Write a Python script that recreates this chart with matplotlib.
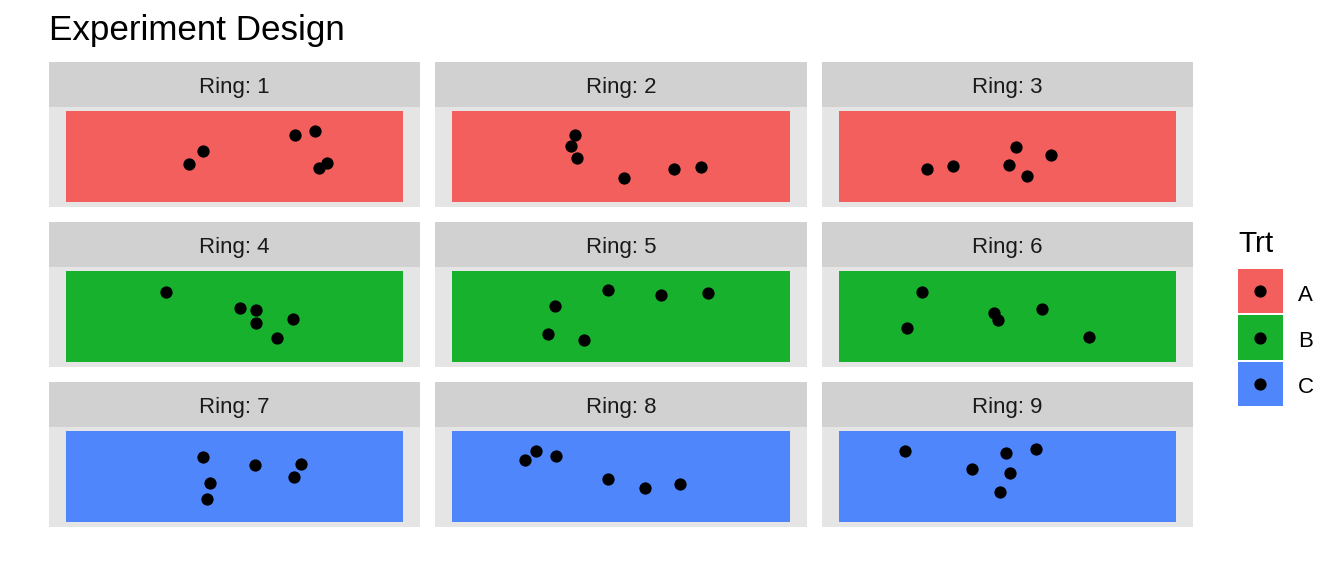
import matplotlib
matplotlib.use("Agg")
import matplotlib.pyplot as plt
from matplotlib.patches import Rectangle

plt.rcParams['font.family'] = ['Liberation Sans', 'DejaVu Sans']

# ---- data ----
rings = [1, 2, 3, 4, 5, 6, 7, 8, 9]
trt = ['A', 'A', 'A', 'B', 'B', 'B', 'C', 'C', 'C']
trt_levels = ['A', 'B', 'C']
trt_colors = ['#F35F5C', '#18B12E', '#4F86FC']

x_pos = [
    [0.405, 0.364, 0.678, 0.737, 0.751, 0.775],
    [0.364, 0.352, 0.370, 0.509, 0.657, 0.737],
    [0.263, 0.340, 0.527, 0.506, 0.559, 0.630],
    [0.296, 0.515, 0.562, 0.562, 0.672, 0.624],
    [0.305, 0.462, 0.618, 0.757, 0.284, 0.391],
    [0.246, 0.204, 0.459, 0.473, 0.604, 0.743],
    [0.405, 0.559, 0.698, 0.675, 0.426, 0.417],
    [0.216, 0.249, 0.308, 0.462, 0.571, 0.675],
    [0.198, 0.396, 0.497, 0.586, 0.509, 0.479],
]
y_pos = [
    [0.564, 0.425, 0.742, 0.782, 0.375, 0.433],
    [0.739, 0.620, 0.489, 0.261, 0.370, 0.391],
    [0.370, 0.402, 0.609, 0.413, 0.293, 0.522],
    [0.772, 0.598, 0.576, 0.435, 0.478, 0.261],
    [0.620, 0.793, 0.739, 0.761, 0.315, 0.239],
    [0.772, 0.380, 0.543, 0.467, 0.587, 0.272],
    [0.714, 0.626, 0.637, 0.495, 0.429, 0.253],
    [0.681, 0.780, 0.725, 0.473, 0.374, 0.418],
    [0.780, 0.582, 0.758, 0.802, 0.538, 0.330],
]

# ---- layout (pixels) ----
W, H = 1344, 576
fig = plt.figure(figsize=(W / 100, H / 100), dpi=100)


def frect(x0, y0, x1, y1):
    return [x0 / W, 1 - y1 / H, (x1 - x0) / W, (y1 - y0) / H]


col_x = [49, 435.3, 821.7]
panel_w = 371.3
row_y = [62, 222, 382]
strip_h = 44.7
panel_h = 100

PANEL_BG = '#E5E5E5'
STRIP_BG = '#D1D1D1'

for i, ring in enumerate(rings):
    r, c = divmod(i, 3)
    x0 = col_x[c]
    y0 = row_y[r]
    # strip
    sax = fig.add_axes(frect(x0, y0, x0 + panel_w, y0 + strip_h))
    sax.set_facecolor(STRIP_BG)
    sax.set_xticks([]); sax.set_yticks([])
    for s in sax.spines.values():
        s.set_visible(False)
    fig.text((x0 + panel_w / 2) / W, 1 - (y0 + 31.3) / H, f"Ring: {ring}",
             ha='center', va='baseline', fontsize=16, color='#1A1A1A')
    # panel
    ax = fig.add_axes(frect(x0, y0 + strip_h, x0 + panel_w, y0 + strip_h + panel_h))
    ax.set_facecolor(PANEL_BG)
    ax.set_xlim(-0.05, 1.05)
    ax.set_ylim(-0.05, 1.05)
    ax.set_xticks([]); ax.set_yticks([])
    for s in ax.spines.values():
        s.set_visible(False)
    col = trt_colors[trt_levels.index(trt[i])]
    ax.add_patch(Rectangle((0, 0), 1, 1, facecolor=col, edgecolor='none', zorder=1))
    ax.scatter(x_pos[i], y_pos[i], s=78, color='black', linewidths=0, zorder=3)

# title
fig.text(49 / W, 1 - 40 / H, "Experiment Design", fontsize=25.2,
         ha='left', va='baseline', color='black')

# legend
lax = fig.add_axes(frect(1237.7, 268, 1282.7, 407))
lax.set_xlim(0, 1)
lax.set_ylim(3, 0)
lax.axis('off')
for k, (lev, col) in enumerate(zip(trt_levels, trt_colors)):
    lax.add_patch(Rectangle((0, k + 0.02), 1, 0.96, facecolor=col, edgecolor='none'))
    lax.scatter([0.5], [k + 0.5], s=78, color='black', linewidths=0, zorder=3)
    fig.text(1297.7 / W, 1 - (301 + 46.2 * k) / H, lev, fontsize=16,
             ha='left', va='baseline', color='black')

fig.text(1238 / W, 1 - 251.7 / H, "Trt", fontsize=21.5, ha='left',
         va='baseline', color='black')

fig.savefig("out.png", dpi=100, facecolor='white')
